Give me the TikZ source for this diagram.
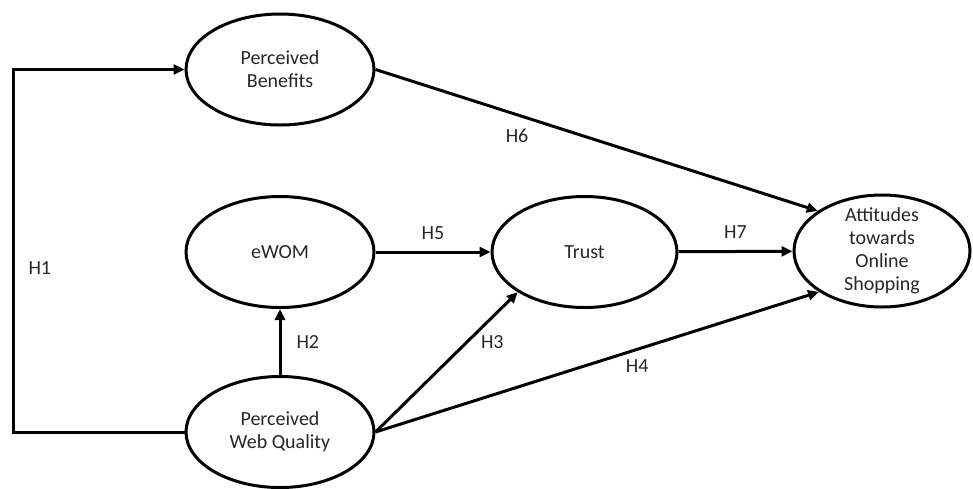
\documentclass[tikz,border=0pt]{standalone}
\usepackage{fontspec}
\setmainfont{Carlito}
\usepackage{tikz}
\usetikzlibrary{arrows.meta,shapes.geometric}

\begin{document}
\begin{tikzpicture}[x=1pt,y=-1pt,font=\fontsize{20}{23}\selectfont,
  latent/.style={draw=black,line width=3pt,ellipse,align=center,inner sep=0pt,text=black!85,
    minimum width=188pt,minimum height=111pt},
  hyp/.style={-{Triangle[length=11pt,width=10pt]},line width=3pt},
  hlab/.style={inner sep=1pt,text=black!85}]
\useasboundingbox (0,0) rectangle (973,488);
\node[latent](pb) at (280,69.5){Perceived\\Benefits};
\node[latent](ewom) at (280,252){eWOM};
\node[latent,minimum width=185pt](trust) at (584.5,252){Trust};
\node[latent,minimum width=176pt,minimum height=112pt,inner ysep=-8pt](att) at (882,251){Attitudes\\towards\\Online\\Shopping};
\node[latent](pwq) at (280,432){Perceived\\Web Quality};
\coordinate (corner) at (13,432);
\draw[hyp](pwq.west)--(corner)|-node[hlab,pos=0.226,right=13pt]{H1}(pb.west);
\draw[hyp](pwq)--(ewom)node[hlab,midway,right=14pt]{H2};
\draw[hyp](pwq.east)--(trust.211)node[hlab,pos=0.64,right=12pt]{H3};
\draw[hyp](pwq.east)--(att.213)node[hlab,pos=0.59,below=8pt]{H4};
\draw[hyp](ewom)--(trust)node[hlab,midway,above=10pt]{H5};
\draw[hyp](pb.east)--(att.148)node[hlab,pos=0.32,below=12pt]{H6};
\draw[hyp](trust)--(att)node[hlab,midway,above=10pt]{H7};
\end{tikzpicture}
\end{document}
